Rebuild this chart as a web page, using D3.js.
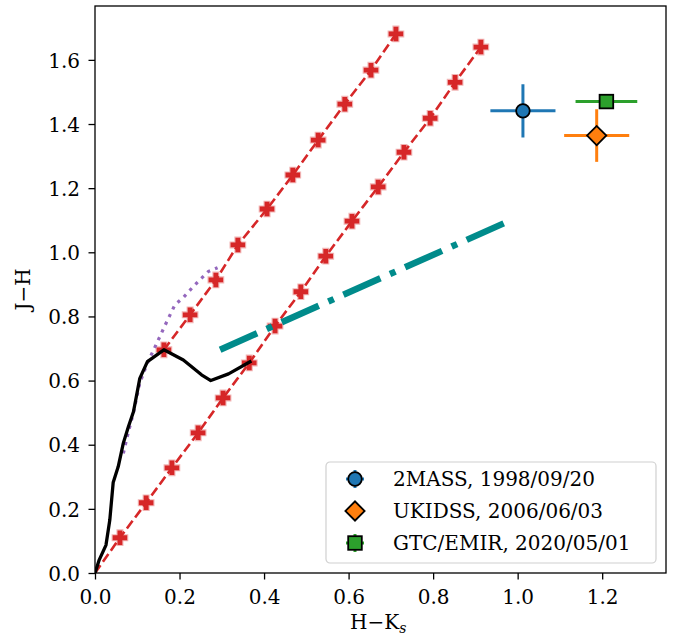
<!DOCTYPE html>
<html>
<head>
<meta charset="utf-8">
<script src="https://cdn.jsdelivr.net/npm/d3@7"></script>
<style>
  body { margin: 0; background: #fff; }
  svg text { font-family: "DejaVu Serif", serif; fill: #000; }
  .tick text { font-size: 20px; font-family: "DejaVu Serif", serif; }
  .labels { font-size: 20px; }
  .leg { font-size: 20px; }
</style>
</head>
<body>
<div id="graf"></div>
<script>
// intrinsic colour locus (black) and dotted locus (purple)
const locusHK = [0, 0.010, 0.026, 0.035, 0.043, 0.055, 0.067, 0.079, 0.091, 0.106, 0.124, 0.163, 0.209, 0.252, 0.274, 0.316, 0.370]
const locusJH = [0, 0.041, 0.087, 0.165, 0.282, 0.332, 0.405, 0.456, 0.503, 0.607, 0.659, 0.696, 0.664, 0.618, 0.600, 0.621, 0.661]

const dotHK = [0.067, 0.079, 0.091, 0.106, 0.124, 0.146, 0.166, 0.189, 0.209, 0.229, 0.248, 0.268, 0.290]
const dotJH = [0.373, 0.440, 0.500, 0.593, 0.655, 0.716, 0.773, 0.836, 0.859, 0.888, 0.914, 0.940, 0.952]

// reddening vectors with markers
const red1HK = [0.163, 0.225, 0.286, 0.338, 0.407, 0.468, 0.528, 0.591, 0.653, 0.712]
const red1JH = [0.696, 0.805, 0.914, 1.023, 1.135, 1.241, 1.350, 1.462, 1.568, 1.681]
const red2HK = [0, 0.059, 0.121, 0.182, 0.244, 0.303, 0.365, 0.426, 0.487, 0.546, 0.608, 0.670, 0.731, 0.793, 0.852, 0.913]
const red2JH = [0, 0.110, 0.219, 0.328, 0.437, 0.546, 0.655, 0.770, 0.877, 0.988, 1.097, 1.204, 1.312, 1.418, 1.530, 1.640]

// dash-dot line
const ttsHK = [0.296, 0.970]
const ttsJH = [0.696, 1.092]

// observations
const obsNames = ["2MASS, 1998/09/20", "UKIDSS, 2006/06/03", "GTC/EMIR, 2020/05/01"]
const obsHK = [1.0125, 1.187, 1.210]
const obsJH = [1.441, 1.364, 1.470]
const obsHKerr = [0.077, 0.077, 0.073]
const obsJHerr = [0.083, 0.082, 0.015]
const obsColors = ["#1f77b4", "#ff7f0e", "#2ca02c"]

const xTicks = [0, 0.2, 0.4, 0.6, 0.8, 1.0, 1.2]
const yTicks = [0, 0.2, 0.4, 0.6, 0.8, 1.0, 1.2, 1.4, 1.6]

const margins = { left: 95, top: 6, right: 19, bottom: 64 }
const anchoTotal = 685
const altoTotal = 637
const ancho = anchoTotal - margins.left - margins.right
const alto = altoTotal - margins.top - margins.bottom

const svg = d3.select("#graf")
  .append("svg")
  .attr("width", anchoTotal)
  .attr("height", altoTotal)

const g = svg.append("g")
  .attr("transform", `translate(${margins.left}, ${margins.top})`)

g.append("clipPath").attr("id", "clip")
  .append("rect").attr("width", ancho).attr("height", alto)

const x = d3.scaleLinear().domain([0, 1.351]).range([0, ancho])
const y = d3.scaleLinear().domain([0, 1.768]).range([alto, 0])

const zip = (a, b) => a.map((v, i) => [v, b[i]])
const line = d3.line().x((d) => x(d[0])).y((d) => y(d[1]))

const plot = g.append("g").attr("clip-path", "url(#clip)")

// red dashed vectors
const reds = [zip(red1HK, red1JH), zip(red2HK, red2JH)]
reds.forEach((pts) => {
  plot.append("path")
    .attr("d", line(pts))
    .attr("fill", "none")
    .attr("stroke", "#d62728")
    .attr("stroke-width", 2.6)
    .attr("stroke-dasharray", "9.5,4.2")
})

// plus markers
const plusPath = (s) => {
  const a = s / 6, b = s / 2
  return `M${-a},${-b}H${a}V${-a}H${b}V${a}H${a}V${b}H${-a}V${a}H${-b}V${-a}H${-a}Z`
}
reds.forEach((pts, k) => {
  plot.selectAll(null)
    .data(k === 1 ? pts.slice(1) : pts)
    .enter()
    .append("path")
    .attr("d", plusPath(14.5))
    .attr("transform", (d) => `translate(${x(d[0])}, ${y(d[1])})`)
    .attr("fill", "#d62728")
    .attr("stroke", "rgba(214,39,40,0.35)")
    .attr("stroke-width", 2.2)
})

// purple dotted
plot.append("path")
  .attr("d", line(zip(dotHK, dotJH)))
  .attr("fill", "none")
  .attr("stroke", "#9467bd")
  .attr("stroke-width", 3.2)
  .attr("stroke-dasharray", "3.2,5.3")

// black locus
plot.append("path")
  .attr("d", line(zip(locusHK, locusJH)))
  .attr("fill", "none")
  .attr("stroke", "#000")
  .attr("stroke-width", 3.3)
  .attr("stroke-linejoin", "round")

// teal dash-dot
plot.append("path")
  .attr("d", line(zip(ttsHK, ttsJH)))
  .attr("fill", "none")
  .attr("stroke", "#008b8b")
  .attr("stroke-width", 6.5)
  .attr("stroke-dasharray", "40.5,10.5,6,10.5")

// markers: circle, diamond (rotated square), square
const marker = (sel, i) => {
  if (i === 0) {
    sel.append("circle").attr("r", 6.8)
  } else {
    sel.append("rect")
      .attr("x", -6.8).attr("y", -6.8).attr("width", 13.6).attr("height", 13.6)
      .attr("transform", i === 1 ? "rotate(45)" : null)
  }
  sel.selectAll("circle, rect")
    .attr("fill", obsColors[i])
    .attr("stroke", "#000")
    .attr("stroke-width", 1.8)
}

// observations with error bars
obsNames.forEach((name, i) => {
  const cx = x(obsHK[i]), cy = y(obsJH[i])
  plot.append("line")
    .attr("x1", x(obsHK[i] - obsHKerr[i])).attr("x2", x(obsHK[i] + obsHKerr[i]))
    .attr("y1", cy).attr("y2", cy)
    .attr("stroke", obsColors[i]).attr("stroke-width", 3)
  plot.append("line")
    .attr("x1", cx).attr("x2", cx)
    .attr("y1", y(obsJH[i] - obsJHerr[i])).attr("y2", y(obsJH[i] + obsJHerr[i]))
    .attr("stroke", obsColors[i]).attr("stroke-width", 3)
  marker(plot.append("g").attr("transform", `translate(${cx}, ${cy})`), i)
})

// axes
const xAxis = d3.axisBottom(x).tickValues(xTicks).tickFormat(d3.format(".1f")).tickSize(6.5).tickPadding(10.5)
const yAxis = d3.axisLeft(y).tickValues(yTicks).tickFormat(d3.format(".1f")).tickSize(6.5).tickPadding(8.5)

const gx = g.append("g").attr("transform", `translate(0, ${alto})`).call(xAxis)
const gy = g.append("g").call(yAxis)
;[gx, gy].forEach((a) => {
  a.select(".domain").remove()
  a.selectAll(".tick line").attr("stroke-width", 1.3)
  a.attr("font-family", "DejaVu Serif").attr("font-size", 20)
})
gx.selectAll(".tick text").attr("dy", "0.72em")
gy.selectAll(".tick text").attr("dy", "0.36em")

g.append("rect")
  .attr("width", ancho).attr("height", alto)
  .attr("fill", "none").attr("stroke", "#000").attr("stroke-width", 1.3)

g.append("text")
  .attr("x", x(0.67)).attr("y", alto + 56)
  .attr("text-anchor", "middle")
  .attr("class", "labels")
  .html("H\u2212K<tspan font-size='14px' font-style='italic' dy='4'>s</tspan>")

g.append("text")
  .attr("transform", `translate(${-65}, ${alto / 2}) rotate(-90)`)
  .attr("text-anchor", "middle")
  .attr("class", "labels")
  .text("J\u2212H")

// legend
const leg = g.append("g").attr("transform", `translate(${231}, ${456})`)
leg.append("rect")
  .attr("width", 330).attr("height", 101)
  .attr("rx", 4)
  .attr("fill", "rgba(255,255,255,0.8)")
  .attr("stroke", "#d0d0d0").attr("stroke-width", 1.2)

obsNames.forEach((name, i) => {
  const ry = 17 + i * 32
  const row = leg.append("g").attr("transform", `translate(29, ${ry})`)
  row.append("line").attr("x1", -9).attr("x2", 9)
    .attr("stroke", obsColors[i]).attr("stroke-width", 3)
  row.append("line").attr("y1", -9).attr("y2", 9)
    .attr("stroke", obsColors[i]).attr("stroke-width", 3)
  marker(row.append("g"), i)
  leg.append("text")
    .attr("x", 67).attr("y", ry)
    .attr("dy", "0.36em")
    .attr("class", "leg")
    .text(name)
})
</script>
</body>
</html>
